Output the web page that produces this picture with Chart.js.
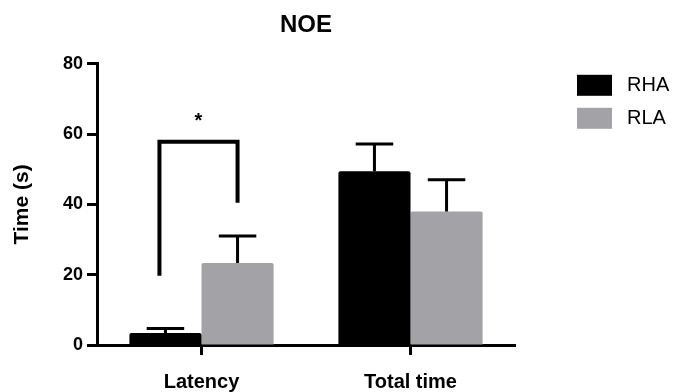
<!DOCTYPE html>
<html>
<head>
<meta charset="utf-8">
<script src="https://cdn.jsdelivr.net/npm/chart.js@4.4.1/dist/chart.umd.min.js"></script>
<style>
  html, body { margin: 0; padding: 0; background: #fff; }
  #wrap { width: 677px; height: 392px; }
</style>
</head>
<body>
<div id="wrap"><canvas id="mycanvas"></canvas></div>
<script>
// data
var categories = ['Latency', 'Total time'];
var groups = ['RHA', 'RLA'];
var rha = [3.4, 49.4];
var rhaErr = [1.3, 7.8];
var rla = [23.3, 38.0];
var rlaErr = [7.7, 9.0];
var yTicks = [0, 20, 40, 60, 80];
// significance bracket (Latency RHA vs RLA)
var sigTop = 57.8;
var sigLeftEnd = 19.7;
var sigRightEnd = 40.5;
var sigStar = 62;
var sigMark = '*';

var FONT = '"Liberation Sans", Arial, sans-serif';
var errs = [rhaErr, rlaErr];

var errorBars = {
	id: 'errorBars',
	afterDatasetsDraw: function(chart){
		var ctx = chart.ctx;
		var ys = chart.scales.y;
		ctx.save();
		ctx.strokeStyle = '#000';
		ctx.lineWidth = 3;
		chart.data.datasets.forEach(function(ds, i){
			var meta = chart.getDatasetMeta(i);
			meta.data.forEach(function(bar, j){
				var top = ys.getPixelForValue(ds.data[j] + errs[i][j]);
				var half = bar.width * 0.26;
				ctx.beginPath();
				ctx.moveTo(bar.x, bar.y);
				ctx.lineTo(bar.x, top);
				ctx.moveTo(bar.x - half, top);
				ctx.lineTo(bar.x + half, top);
				ctx.stroke();
			});
		});
		ctx.restore();
	}
};

var bracket = {
	id: 'bracket',
	afterDatasetsDraw: function(chart){
		var ctx = chart.ctx;
		var ys = chart.scales.y;
		var a = chart.getDatasetMeta(0).data[0];
		var b = chart.getDatasetMeta(1).data[0];
		var x1 = a.x - 6, x2 = b.x;
		ctx.save();
		ctx.strokeStyle = '#000';
		ctx.lineWidth = 4;
		ctx.lineJoin = 'miter';
		ctx.beginPath();
		ctx.moveTo(x1, ys.getPixelForValue(sigLeftEnd));
		ctx.lineTo(x1, ys.getPixelForValue(sigTop));
		ctx.lineTo(x2, ys.getPixelForValue(sigTop));
		ctx.lineTo(x2, ys.getPixelForValue(sigRightEnd));
		ctx.stroke();
		ctx.fillStyle = '#000';
		ctx.font = 'bold 20px ' + FONT;
		ctx.textAlign = 'center';
		ctx.textBaseline = 'alphabetic';
		ctx.fillText(sigMark, (x1 + x2) / 2, ys.getPixelForValue(sigStar));
		ctx.restore();
	}
};

var sideLegend = {
	id: 'sideLegend',
	afterDraw: function(chart){
		var ctx = chart.ctx;
		var area = chart.chartArea;
		var x = area.right + 62;
		var y = area.top + 11;
		ctx.save();
		ctx.font = '20px ' + FONT;
		ctx.textBaseline = 'middle';
		ctx.textAlign = 'left';
		chart.data.datasets.forEach(function(ds, i){
			var yy = y + i * 33;
			ctx.fillStyle = ds.backgroundColor;
			ctx.fillRect(x, yy, 35, 21);
			ctx.fillStyle = '#000';
			ctx.fillText(ds.label, x + 50, yy + 11);
		});
		ctx.restore();
	}
};

var chartdata = {
	labels: categories,
	datasets: [{
		label: groups[0],
		backgroundColor: '#000000',
		data: rha,
		borderRadius: 2
	}, {
		label: groups[1],
		backgroundColor: '#a3a2a7',
		data: rla,
		borderRadius: 2
	}]
};

var ctx = document.getElementById('mycanvas');
var barGraph = new Chart(ctx, {
	type: 'bar',
	data: chartdata,
	plugins: [errorBars, bracket, sideLegend],
	options: {
		responsive: true,
		maintainAspectRatio: false,
		animation: false,
		layout: { padding: { left: 0, right: 162, top: 0, bottom: 0 } },
		datasets: { bar: { categoryPercentage: 0.69, barPercentage: 1.0 } },
		plugins: {
			legend: { display: false },
			tooltip: { enabled: false },
			title: {
				display: true,
				text: 'NOE',
				fullSize: false,
				color: '#000',
				font: { family: FONT, size: 24, weight: 'bold' },
				padding: { top: 11, bottom: 24 }
			}
		},
		scales: {
			x: {
				grid: { display: true, drawOnChartArea: false, offset: false, tickLength: 10, tickWidth: 3, tickColor: '#000' },
				border: { display: true, width: 3, color: '#000' },
				ticks: { color: '#000', padding: 15, maxRotation: 0, font: { family: FONT, size: 20, weight: 'bold' } },
				afterFit: function(scale){ scale.height = 47; }
			},
			y: {
				min: 0,
				max: 80,
				afterBuildTicks: function(scale){
					scale.ticks = yTicks.map(function(v){ return { value: v }; });
				},
				grid: { display: true, drawOnChartArea: false, tickLength: 10, tickWidth: 3, tickColor: '#000' },
				border: { display: true, width: 3, color: '#000' },
				ticks: { color: '#000', padding: 4, font: { family: FONT, size: 18, weight: 'bold' } },
				title: {
					display: true,
					text: 'Time (s)',
					color: '#000',
					padding: { top: 10, bottom: 0 },
					font: { family: FONT, size: 21, weight: 'bold' }
				},
				afterFit: function(scale){ scale.width = 97; }
			}
		}
	}
});
</script>
</body>
</html>
